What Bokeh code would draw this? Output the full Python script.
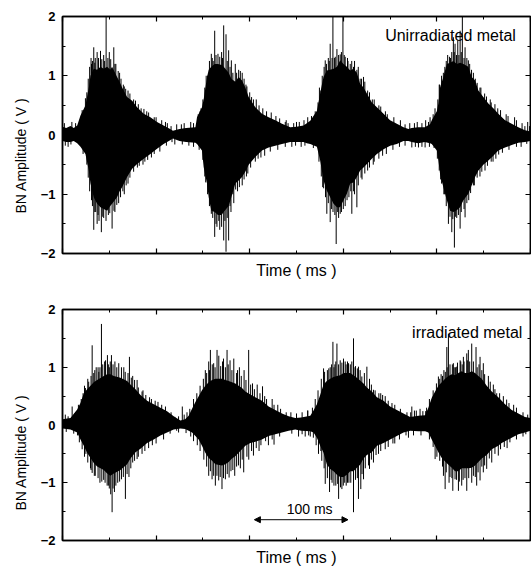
from bokeh.plotting import figure
from bokeh.layouts import column
from bokeh.models import LinearAxis, FixedTicker, Range1d, Label, Arrow, NormalHead, Title
from bokeh.embed import file_html
from bokeh.resources import INLINE

# ---------------- Unirradiated metal: burst envelope (time in ms, amplitude in V)
top_t = [0, 4, 8.5, 12, 15.7, 19.2, 24.5, 28.1, 29.9, 33.4,
         37, 40.6, 44, 47.7, 51, 53, 58.3, 61, 63.7, 69,
         74.4, 79.7, 86.8, 93.9, 101, 108, 115, 118, 125, 132,
         142, 143.7, 149, 150.8, 154.4, 156.2, 159, 162.6, 166.1, 170,
         172.2, 177.5, 180.4, 184.6, 188.2, 191.8, 195.3, 198.9, 206, 213.1,
         220.2, 227.3, 234.5, 243.3, 250, 257.5, 261, 264.7, 271.8, 275.3,
         277.1, 278.9, 282.4, 286, 289.6, 293.2, 296.7, 300.2, 303.8, 307.4,
         310.9, 314.5, 318, 321.6, 325.2, 330.5, 335.9, 343, 350, 357.2,
         364.3, 369.6, 373, 380, 387, 392.7, 394.5, 399.9, 401.6, 403.4,
         406.9, 410.6, 414.1, 417.6, 421.2, 424.8, 428.3, 433.6, 437.2, 440.8,
         444.3, 449.6, 455, 460.3, 465.6, 472.8, 479.9, 487, 494.1, 500]
top_hi = [0.14, 0.12, 0.15, 0.12, 0.16, 0.33, 0.5, 0.8, 1.0, 1.12,
          1.1, 1.15, 1.12, 1.15, 1.1, 1.15, 0.98, 0.9, 0.8, 0.64,
          0.58, 0.47, 0.36, 0.3, 0.22, 0.16, 0.1, 0.07, 0.1, 0.12,
          0.13, 0.3, 0.47, 0.6, 0.98, 1.1, 1.15, 1.2, 1.2, 1.18,
          1.15, 1.05, 0.95, 0.9, 0.98, 0.92, 0.8, 0.64, 0.47, 0.36,
          0.3, 0.25, 0.19, 0.13, 0.14, 0.16, 0.2, 0.24, 0.41, 0.7,
          0.85, 0.98, 1.09, 1.1, 1.12, 1.15, 1.26, 1.2, 1.15, 1.09,
          1.12, 1.05, 0.86, 0.8, 0.7, 0.55, 0.47, 0.36, 0.25, 0.19,
          0.13, 0.1, 0.12, 0.13, 0.13, 0.18, 0.25, 0.4, 0.53, 0.8,
          0.98, 1.2, 1.22, 1.25, 1.2, 1.22, 1.2, 1.15, 0.98, 0.92,
          0.75, 0.64, 0.53, 0.45, 0.36, 0.25, 0.19, 0.13, 0.08, 0.06]
top_lo = [-0.1, -0.12, -0.12, -0.1, -0.14, -0.2, -0.32, -0.6, -0.82, -1.05,
          -1.16, -1.22, -1.25, -1.28, -1.2, -1.16, -1.05, -0.95, -0.88, -0.71,
          -0.57, -0.49, -0.4, -0.32, -0.23, -0.15, -0.09, -0.06, -0.1, -0.12,
          -0.13, -0.15, -0.26, -0.54, -0.82, -1.05, -1.28, -1.3, -1.35, -1.35,
          -1.3, -1.2, -1.05, -0.82, -0.77, -0.71, -0.62, -0.5, -0.37, -0.26,
          -0.21, -0.18, -0.15, -0.12, -0.12, -0.12, -0.14, -0.15, -0.2, -0.43,
          -0.6, -0.77, -0.94, -1.05, -1.16, -1.22, -1.22, -1.1, -0.99, -0.82,
          -0.8, -0.71, -0.6, -0.55, -0.49, -0.4, -0.32, -0.24, -0.18, -0.15,
          -0.1, -0.1, -0.12, -0.14, -0.12, -0.14, -0.15, -0.26, -0.43, -0.66,
          -0.88, -1.1, -1.28, -1.3, -1.27, -1.22, -1.1, -0.99, -0.85, -0.71,
          -0.6, -0.5, -0.43, -0.35, -0.26, -0.21, -0.17, -0.13, -0.12, -0.1]

# tall Barkhausen spikes standing out of the envelope
top_spk_t = [24.5, 31, 33.4, 35, 37, 40.6, 44, 46.6, 50, 54.8, 57, 61, 66, 70, 76, 84, 90, 98,
             31, 33.4, 35.5, 37, 39, 41.5, 44, 49, 53, 56, 60, 66, 70, 80, 88, 95,
             148, 155, 159, 161, 162.6, 166.1, 170, 172.2, 174.7, 177.5, 180.4, 184.6, 188.2, 192, 196, 202, 207, 218, 228,
             152, 159, 162.6, 165, 168, 172.2, 174.7, 177.5, 180, 183, 187, 192, 198, 206, 216,
             276, 280.7, 284, 286, 288.9, 291.4, 293.2, 296.7, 299.6, 302, 305, 307.4, 310.9, 314.5, 318, 321.6, 326, 331, 338, 345,
             279, 282.4, 286, 289, 292.4, 295, 296.7, 300, 304, 309.1, 312, 314.5, 320, 326, 333, 342,
             392.7, 403, 406.9, 410, 413.4, 415.9, 417.6, 419.4, 422.3, 424.8, 427.2, 430.1, 433.6, 437, 441, 446, 451, 458, 465, 474, 483,
             404, 408, 412.3, 415.9, 418.7, 421.2, 424.8, 430.1, 434, 440, 446, 451.4, 458, 466,
             10, 110, 130, 137, 239, 250, 262, 379, 388, 497,
             6, 120, 135, 245, 255, 373.2, 380.3, 387.4, 490]
top_spk_v = [0.62, 1.2, 1.48, 1.3, 1.4, 1.42, 1.35, 2.0, 1.4, 1.48, 1.2, 1.05, 0.82, 0.75, 0.6, 0.45, 0.4, 0.3,
             -1.1, -1.6, -1.3, -1.5, -1.45, -1.64, -1.4, -1.35, -1.58, -1.3, -1.15, -1.0, -0.82, -0.55, -0.45, -0.38,
             0.45, 1.0, 1.37, 1.25, 1.76, 1.37, 1.4, 1.85, 1.7, 1.43, 1.26, 1.2, 1.1, 1.05, 0.85, 0.64, 0.6, 0.4, 0.32,
             -0.7, -1.33, -1.72, -1.55, -1.6, -1.78, -1.97, -1.78, -1.3, -1.15, -0.95, -0.85, -0.65, -0.45, -0.35,
             0.75, 1.26, 1.3, 1.54, 2.0, 1.32, 1.45, 1.36, 2.0, 1.32, 1.25, 1.2, 1.15, 1.1, 0.95, 0.98, 0.75, 0.6, 0.5, 0.4,
             -0.9, -1.33, -1.47, -1.3, -1.84, -1.4, -1.33, -1.25, -1.1, -1.33, -1.0, -1.22, -0.75, -0.6, -0.45, -0.35,
             0.3, 0.85, 1.05, 1.25, 1.32, 1.4, 1.65, 1.54, 1.6, 1.76, 2.0, 1.48, 1.26, 1.1, 0.95, 0.8, 0.7, 0.55, 0.45, 0.35, 0.3,
             -0.75, -1.0, -1.5, -1.64, -1.9, -1.4, -1.58, -1.39, -1.1, -0.85, -0.7, -0.6, -0.45, -0.33,
             0.22, 0.22, 0.2, 0.22, 0.25, 0.22, 0.3, 0.22, 0.25, 0.22,
             -0.2, -0.16, -0.18, -0.2, -0.2, -0.21, -0.21, -0.21, -0.2]

# short hairs along the ragged edge of each burst
top_hair_t = [21, 26, 27.5, 29, 30.5, 32, 34.5, 38.5, 42, 45, 48.5, 51.5, 56, 59.5, 62.5, 65, 67.5, 72, 78, 81, 87, 92, 100, 106, 112,
              22, 26, 27.5, 29, 32, 34.5, 38, 43, 46.5, 50.5, 55, 58, 62, 64.5, 68, 72, 76, 82, 86, 91, 98, 104, 111,
              145, 147, 150, 152, 153.5, 157, 160, 164, 168, 171, 176, 179, 182, 186, 190, 194, 197, 200, 204, 210, 214, 223, 232, 238,
              146, 150, 153, 155, 157, 160.5, 164, 167, 170, 173.5, 176, 179, 182, 185, 189, 194, 196.5, 201, 209, 212, 222, 230, 238,
              266, 270, 273, 274.5, 277.5, 279.5, 282, 285, 288, 290.5, 295, 298, 301, 304.5, 309, 312, 316, 319.5, 323, 328, 333, 340, 347, 354, 361,
              268, 274, 276.5, 278, 281, 284, 287.5, 291, 294, 298, 302, 306, 308, 311, 316, 319, 323, 328, 332, 338, 346, 353, 360,
              396, 398, 401, 402.5, 405, 408.5, 411.5, 414.5, 418.5, 421, 423.5, 426, 429, 432, 435, 439, 443, 447, 453, 457, 462, 468, 476, 485, 491,
              397, 400.5, 402.5, 405, 407.5, 410, 414, 417, 420, 423, 426, 429, 432, 436, 439, 443, 448, 454, 460, 463, 470, 477, 485,
              2, 14, 116, 122, 127, 140, 241, 247, 253, 258, 366, 371, 376, 384, 391, 494, 499,
              3, 9, 117, 128, 140, 249, 259, 366, 377, 384, 392, 496]
top_hair_v = [0.42, 0.72, 0.95, 1.15, 1.3, 1.25, 1.22, 1.3, 1.28, 1.25, 1.3, 1.28, 1.2, 1.08, 0.95, 0.85, 0.78, 0.7, 0.58, 0.52, 0.44, 0.38, 0.3, 0.25, 0.2,
              -0.32, -0.5, -0.72, -0.95, -1.2, -1.3, -1.35, -1.38, -1.45, -1.32, -1.28, -1.18, -1.05, -0.95, -0.85, -0.72, -0.62, -0.52, -0.5, -0.42, -0.32, -0.28, -0.18,
              0.35, 0.4, 0.6, 0.8, 1.0, 1.25, 1.3, 1.35, 1.32, 1.3, 1.25, 1.15, 1.05, 1.05, 1.08, 0.95, 0.82, 0.72, 0.6, 0.5, 0.45, 0.38, 0.28, 0.22,
              -0.25, -0.42, -0.8, -1.0, -1.2, -1.4, -1.5, -1.45, -1.55, -1.45, -1.4, -1.2, -1.0, -0.92, -0.88, -0.75, -0.7, -0.55, -0.4, -0.38, -0.28, -0.25, -0.2,
              0.32, 0.4, 0.55, 0.8, 1.0, 1.15, 1.2, 1.25, 1.3, 1.3, 1.35, 1.4, 1.35, 1.3, 1.25, 1.25, 1.15, 0.95, 0.9, 0.72, 0.6, 0.48, 0.35, 0.3, 0.25,
              -0.22, -0.45, -0.7, -0.88, -1.05, -1.15, -1.25, -1.35, -1.3, -1.3, -1.2, -1.05, -0.95, -0.95, -0.85, -0.72, -0.65, -0.55, -0.5, -0.4, -0.32, -0.25, -0.2,
              0.35, 0.45, 0.6, 0.85, 1.0, 1.15, 1.35, 1.3, 1.4, 1.35, 1.35, 1.4, 1.3, 1.3, 1.2, 1.05, 0.88, 0.8, 0.65, 0.6, 0.52, 0.42, 0.32, 0.25, 0.2,
              -0.22, -0.4, -0.6, -0.82, -1.0, -1.2, -1.38, -1.42, -1.38, -1.35, -1.3, -1.25, -1.15, -0.98, -0.85, -0.72, -0.62, -0.52, -0.45, -0.4, -0.3, -0.25, -0.2,
              0.2, 0.2, 0.15, 0.18, 0.18, 0.2, 0.2, 0.2, 0.22, 0.25, 0.18, 0.2, 0.2, 0.2, 0.22, 0.15, 0.15,
              -0.18, -0.16, -0.12, -0.16, -0.2, -0.18, -0.18, -0.18, -0.2, -0.2, -0.2, -0.15]

# ---------------- Irradiated metal
bot_t = [0, 8.5, 15.7, 19.2, 22.8, 26.3, 29.9, 33.4, 37, 44.1,
         47.7, 51.2, 54.8, 61.9, 69, 72.6, 78, 83.3, 90.4, 97.5,
         104.6, 111.7, 118.8, 126, 131, 134.8, 138.4, 142, 145.5, 149,
         152.6, 156.2, 159.8, 163.3, 170.4, 174, 177.5, 181.1, 184.6, 188.2,
         191.8, 195.3, 200.7, 206, 213.1, 220.2, 227.3, 234.5, 241.6, 248.7,
         255, 264.7, 268.2, 271.8, 275.3, 278.9, 282.4, 286, 289.6, 293.2,
         296.7, 300.2, 303.8, 307.4, 310.9, 314.5, 318, 321.6, 325.2, 330.5,
         335.9, 343, 350, 357.2, 364.3, 371.4, 380.3, 387.4, 390.9, 394.5,
         398.1, 401.6, 405.2, 408.8, 412.3, 415.9, 419.4, 423, 426.5, 430.1,
         433.6, 437.2, 440.8, 444.3, 447.9, 453.2, 458.6, 465.6, 469.2, 472.8,
         479.9, 487, 494.1, 500]
bot_hi = [0.1, 0.12, 0.27, 0.38, 0.55, 0.62, 0.68, 0.74, 0.78, 0.85,
          0.88, 0.88, 0.85, 0.82, 0.76, 0.7, 0.62, 0.52, 0.42, 0.36,
          0.3, 0.24, 0.15, 0.08, 0.1, 0.16, 0.28, 0.4, 0.5, 0.6,
          0.68, 0.74, 0.78, 0.8, 0.8, 0.78, 0.76, 0.74, 0.72, 0.68,
          0.64, 0.58, 0.53, 0.48, 0.42, 0.32, 0.26, 0.2, 0.15, 0.12,
          0.13, 0.16, 0.25, 0.36, 0.52, 0.7, 0.76, 0.8, 0.83, 0.85,
          0.86, 0.9, 0.9, 0.9, 0.86, 0.82, 0.77, 0.72, 0.65, 0.58,
          0.48, 0.42, 0.32, 0.26, 0.2, 0.14, 0.16, 0.17, 0.3, 0.47,
          0.58, 0.68, 0.74, 0.8, 0.85, 0.88, 0.86, 0.9, 0.93, 0.9,
          0.9, 0.93, 0.9, 0.85, 0.8, 0.68, 0.58, 0.48, 0.42, 0.36,
          0.26, 0.2, 0.14, 0.12]
bot_lo = [-0.06, -0.08, -0.13, -0.25, -0.36, -0.48, -0.57, -0.66, -0.72, -0.78,
          -0.84, -0.88, -0.84, -0.78, -0.68, -0.58, -0.47, -0.41, -0.31, -0.25,
          -0.18, -0.13, -0.08, -0.06, -0.07, -0.1, -0.13, -0.19, -0.25, -0.36,
          -0.48, -0.57, -0.62, -0.68, -0.7, -0.68, -0.64, -0.58, -0.54, -0.48,
          -0.42, -0.36, -0.31, -0.29, -0.25, -0.19, -0.16, -0.13, -0.1, -0.08,
          -0.1, -0.11, -0.13, -0.22, -0.36, -0.48, -0.68, -0.76, -0.8, -0.86,
          -0.9, -0.9, -0.86, -0.8, -0.8, -0.74, -0.69, -0.58, -0.52, -0.47,
          -0.36, -0.31, -0.25, -0.19, -0.13, -0.1, -0.11, -0.11, -0.13, -0.25,
          -0.36, -0.47, -0.57, -0.63, -0.69, -0.74, -0.8, -0.8, -0.75, -0.75,
          -0.75, -0.74, -0.7, -0.64, -0.58, -0.52, -0.42, -0.36, -0.31, -0.28,
          -0.22, -0.16, -0.13, -0.1]

bot_spk_t = [10.3, 22, 24.5, 28, 31.7, 33.4, 36, 38.8, 41.6, 45, 48, 50, 52.3, 56, 60.1, 65.5, 71.5, 75, 79.7, 86, 95, 102,
             12, 25, 29.9, 31.7, 35, 40, 44, 47.7, 50, 53, 55.5, 59, 63, 67.2, 71, 75, 79.7, 88, 96,
             124, 128, 152.6, 156.2, 158, 161.5, 165.1, 167, 172, 175.8, 179, 183, 189, 194, 198.9, 203, 208, 213.7, 224, 230,
             124, 156.2, 159.8, 163.3, 166.9, 170.4, 174, 178, 184, 190, 193.6, 199, 204, 210, 220, 226,
             278.9, 283, 286, 288.9, 291, 293.2, 296.7, 300.2, 303, 305.6, 309.1, 310.9, 312.5, 316.2, 319.8, 325.2, 332.2, 340, 344.8, 352,
             252.2, 259.3, 264.7, 276, 280.7, 285.3, 288, 292, 295, 298.5, 301.5, 303.1, 306, 310.9, 316.2, 318.7, 321.6, 328, 332.2, 337.6, 344.8, 355,
             373.2, 378, 385, 401.6, 406, 410.6, 412.3, 414, 417.6, 421.2, 424.8, 428.3, 431.9, 433.6, 437.2, 441.8, 446.1, 449.6, 455, 460.3, 463.9, 474.5, 482,
             369.6, 398.1, 407, 408.8, 413, 417, 419.4, 423, 426.5, 431.9, 437.2, 442.5, 446.1, 449.6, 453.2, 458.6, 465.6, 475]
bot_spk_v = [0.32, 0.55, 0.64, 0.75, 1.38, 0.9, 1.0, 0.92, 1.75, 1.1, 1.21, 1.0, 1.21, 1.1, 1.07, 1.0, 1.18, 0.85, 0.78, 0.6, 0.45, 0.4,
             -0.15, -0.5, -0.75, -0.83, -0.88, -1.0, -0.95, -1.05, -1.1, -1.51, -1.16, -1.0, -0.94, -1.28, -0.9, -0.65, -0.59, -0.45, -0.35,
             0.15, 0.32, 0.95, 1.1, 1.3, 1.07, 1.3, 1.2, 1.15, 1.3, 1.12, 1.15, 1.0, 0.95, 1.3, 0.72, 0.7, 0.67, 0.45, 0.35,
             -0.13, -0.88, -0.94, -1.05, -0.96, -1.11, -0.94, -0.91, -0.88, -0.75, -0.82, -0.6, -0.53, -0.45, -0.35, -0.34,
             0.98, 0.95, 1.0, 1.44, 1.05, 1.41, 1.12, 1.15, 1.05, 1.07, 1.1, 1.5, 1.0, 1.01, 0.84, 1.01, 0.61, 0.55, 0.5, 0.38,
             -0.2, -0.2, -0.2, -0.45, -1.02, -1.16, -1.0, -1.05, -1.28, -1.11, -1.0, -1.05, -1.0, -1.51, -1.28, -1.11, -0.94, -0.76, -0.65, -0.5, -0.42, -0.32,
             0.32, 0.25, 0.24, 0.84, 0.85, 1.35, 1.58, 1.05, 1.07, 1.01, 1.12, 1.18, 1.24, 1.3, 1.41, 1.35, 1.18, 1.07, 0.85, 0.7, 0.55, 0.44, 0.35,
             -0.22, -0.59, -0.88, -1.11, -1.0, -1.14, -0.94, -1.14, -1.05, -1.14, -1.0, -1.05, -0.96, -0.82, -0.76, -0.65, -0.53, -0.4]

bot_hair_t = [17, 20, 23.5, 27, 30.5, 34.5, 38, 40, 43, 46, 49, 51, 54, 58, 63, 67, 70, 73.5, 77, 81, 85, 89, 93, 99, 106, 110, 116,
              18, 21, 23.5, 27, 30.5, 34, 38, 42, 45.5, 49, 51.5, 54, 57, 61, 65, 69, 73, 77, 81, 85, 92, 100, 108, 115,
              136, 140, 143.5, 147, 150.5, 154, 157, 160, 163, 169, 171, 174, 177, 181, 186, 187, 191, 196, 201, 205, 211, 216, 218, 226, 233, 239,
              137, 140, 144, 147, 151, 154, 158, 161.5, 165, 168.5, 172, 176, 180, 182, 186, 188, 192, 197, 202, 207, 212, 217, 224, 232,
              262, 267, 270, 273, 276.5, 280, 284.5, 287.5, 290, 292, 295, 298.5, 302, 304.5, 307.5, 313, 315, 318, 322.5, 328, 330, 334, 338, 342, 348, 355, 361, 368,
              268, 271, 273.5, 277, 279.5, 283, 287, 290, 294, 297, 300, 304.5, 308, 313, 315, 320, 323.5, 327, 330, 335, 340, 348, 353, 360, 367,
              389, 392, 396, 399.5, 403, 404.5, 407.5, 409, 411, 416.5, 418.5, 420, 422, 425.5, 427, 429, 432.5, 435, 439, 443, 445, 448, 451, 457, 462, 467, 471, 477, 485, 492,
              392, 396, 400, 403, 406, 410, 414, 416, 421, 424, 428, 430, 434, 439, 441, 444, 448, 451, 456, 462, 468, 472, 478, 485, 492,
              3, 6, 13, 120, 130, 133, 244, 250, 256, 262, 372, 376, 382, 388, 497,
              4, 16, 122, 132, 245, 256, 263, 375, 383, 495]
bot_hair_v = [0.35, 0.45, 0.68, 0.8, 0.85, 0.95, 1.0, 1.0, 1.05, 1.12, 1.05, 1.1, 1.05, 1.0, 1.0, 0.92, 0.9, 0.82, 0.78, 0.65, 0.58, 0.52, 0.48, 0.42, 0.35, 0.32, 0.22,
              -0.3, -0.42, -0.55, -0.65, -0.78, -0.88, -0.92, -0.98, -1.0, -1.05, -1.2, -1.1, -1.05, -0.98, -0.9, -0.85, -0.75, -0.62, -0.55, -0.5, -0.4, -0.32, -0.25, -0.15,
              0.28, 0.45, 0.55, 0.68, 0.8, 0.9, 0.95, 1.05, 1.0, 1.02, 1.1, 1.0, 1.05, 0.95, 0.9, 0.95, 0.85, 0.78, 0.7, 0.62, 0.55, 0.5, 0.45, 0.35, 0.28, 0.22,
              -0.2, -0.28, -0.35, -0.45, -0.6, -0.72, -0.8, -0.88, -0.88, -0.9, -0.92, -0.85, -0.8, -0.78, -0.72, -0.7, -0.6, -0.55, -0.45, -0.4, -0.35, -0.28, -0.25, -0.2,
              0.25, 0.3, 0.45, 0.6, 0.8, 0.92, 0.98, 1.05, 1.0, 1.1, 1.05, 1.08, 1.1, 1.1, 1.05, 1.02, 0.98, 0.95, 0.9, 0.8, 0.7, 0.6, 0.55, 0.52, 0.42, 0.35, 0.28, 0.22,
              -0.22, -0.35, -0.5, -0.62, -0.75, -0.92, -0.95, -1.05, -1.02, -1.08, -1.05, -1.0, -1.0, -0.95, -0.92, -0.85, -0.75, -0.7, -0.6, -0.52, -0.45, -0.38, -0.32, -0.25, -0.18,
              0.3, 0.45, 0.6, 0.72, 0.8, 0.88, 0.95, 0.92, 1.0, 1.05, 1.0, 1.0, 1.08, 1.1, 1.05, 1.1, 1.12, 1.1, 1.1, 1.0, 1.05, 0.95, 0.88, 0.75, 0.62, 0.55, 0.5, 0.38, 0.3, 0.22,
              -0.25, -0.38, -0.55, -0.62, -0.72, -0.82, -0.9, -0.92, -0.95, -0.98, -0.95, -0.92, -0.92, -0.88, -0.9, -0.82, -0.72, -0.7, -0.58, -0.5, -0.42, -0.38, -0.3, -0.25, -0.2,
              0.18, 0.15, 0.2, 0.14, 0.18, 0.22, 0.22, 0.2, 0.22, 0.25, 0.22, 0.25, 0.28, 0.24, 0.18,
              -0.12, -0.18, -0.1, -0.14, -0.15, -0.16, -0.18, -0.18, -0.18, -0.16]

# time scale bar drawn under the third burst
bar_start_ms = 205
bar_length_ms = 100
bar_level_v = -1.64

x_major = [0, 100, 200, 300, 400, 500]
x_minor = [50, 150, 250, 350, 450]
y_major = [-2, -1, 0, 1, 2]
y_minor = [-1.5, -0.5, 0.5, 1.5]

assert len(top_t) == len(top_hi) == len(top_lo)
assert len(bot_t) == len(bot_hi) == len(bot_lo)
assert len(top_spk_t) == len(top_spk_v)
assert len(bot_spk_t) == len(bot_spk_v)
assert len(top_hair_t) == len(top_hair_v)
assert len(bot_hair_t) == len(bot_hair_v)

FONT = "Liberation Sans"


def style_axis(ax, labelled):
    ax.axis_line_width = 1.5
    ax.axis_line_color = "black"
    ax.major_tick_in = 5
    ax.major_tick_out = 0
    ax.minor_tick_in = 3
    ax.minor_tick_out = 0
    ax.major_tick_line_width = 1.2
    ax.minor_tick_line_width = 1
    ax.major_label_text_color = "black"
    ax.axis_label_text_color = "black"
    if not labelled:
        ax.major_label_text_color = None
        ax.major_label_text_font_size = "0px"
        ax.major_label_standoff = 0


def make_panel(t, hi, lo, spk_t, spk_v, hair_t, hair_v, note, note_x, note_y,
               ylabel_offset, height, top, bottom):
    p = figure(width=531, height=height, output_backend="svg", toolbar_location=None,
               x_range=Range1d(0, 500), y_range=Range1d(-2, 2),
               min_border_left=62, min_border_right=1,
               min_border_top=top, min_border_bottom=bottom,
               background_fill_color="white", border_fill_color="white")
    p.grid.visible = False
    p.outline_line_color = "black"
    p.outline_line_width = 1.5

    p.varea(x=t, y1=lo, y2=hi, fill_color="black")
    p.segment(x0=hair_t, y0=[0] * len(hair_t), x1=hair_t, y1=hair_v,
              line_color="black", line_width=1)
    p.segment(x0=spk_t, y0=[0] * len(spk_t), x1=spk_t, y1=spk_v,
              line_color="black", line_width=1)

    xb = p.xaxis[0]
    xb.ticker = FixedTicker(ticks=x_major, minor_ticks=x_minor)
    style_axis(xb, False)
    xb.axis_label = "Time ( ms )"
    xb.axis_label_text_font = FONT
    xb.axis_label_text_font_size = "16px"
    xb.axis_label_text_font_style = "normal"
    xb.axis_label_standoff = 8

    yl = p.yaxis[0]
    yl.ticker = FixedTicker(ticks=y_major, minor_ticks=y_minor)
    style_axis(yl, True)
    yl.major_label_text_font = FONT
    yl.major_label_text_font_size = "13px"
    yl.major_label_text_font_style = "bold"
    yl.major_label_standoff = 7

    # vertical title, starting a fixed distance above the frame's lower edge
    p.add_layout(Title(text="BN Amplitude ( V )", align="left", offset=ylabel_offset,
                       standoff=17, text_font=FONT, text_font_size="14px",
                       text_font_style="normal", text_color="black"), "left")

    xa = LinearAxis(ticker=FixedTicker(ticks=x_major, minor_ticks=x_minor))
    style_axis(xa, False)
    p.add_layout(xa, "above")
    yr = LinearAxis(ticker=FixedTicker(ticks=y_major, minor_ticks=y_minor))
    style_axis(yr, False)
    p.add_layout(yr, "right")

    p.add_layout(Label(x=note_x, y=note_y, text=note, text_font=FONT, text_color="black",
                       text_font_size="16px", text_baseline="middle", text_align="left"))
    return p


p1 = make_panel(top_t, top_hi, top_lo, top_spk_t, top_spk_v, top_hair_t, top_hair_v,
                "Unirradiated metal", 344.7, 1.68, 40, 284, 16, 31)
p2 = make_panel(bot_t, bot_hi, bot_lo, bot_spk_t, bot_spk_v, bot_hair_t, bot_hair_v,
                "irradiated metal", 373.5, 1.6, 30, 284, 25, 26)

p2.add_layout(Arrow(x_start=bar_start_ms, y_start=bar_level_v,
                    x_end=bar_start_ms + bar_length_ms, y_end=bar_level_v,
                    start=NormalHead(size=6, fill_color="black", line_color="black"),
                    end=NormalHead(size=6, fill_color="black", line_color="black"),
                    line_width=1, line_color="black"))
p2.add_layout(Label(x=bar_start_ms + bar_length_ms * 0.59, y=bar_level_v + 0.19,
                    text=f"{bar_length_ms} ms", text_font=FONT, text_font_size="14px",
                    text_color="black", text_align="center", text_baseline="middle"))

layout = column(p1, p2, spacing=0)
open("out.html", "w").write(file_html(layout, INLINE))
